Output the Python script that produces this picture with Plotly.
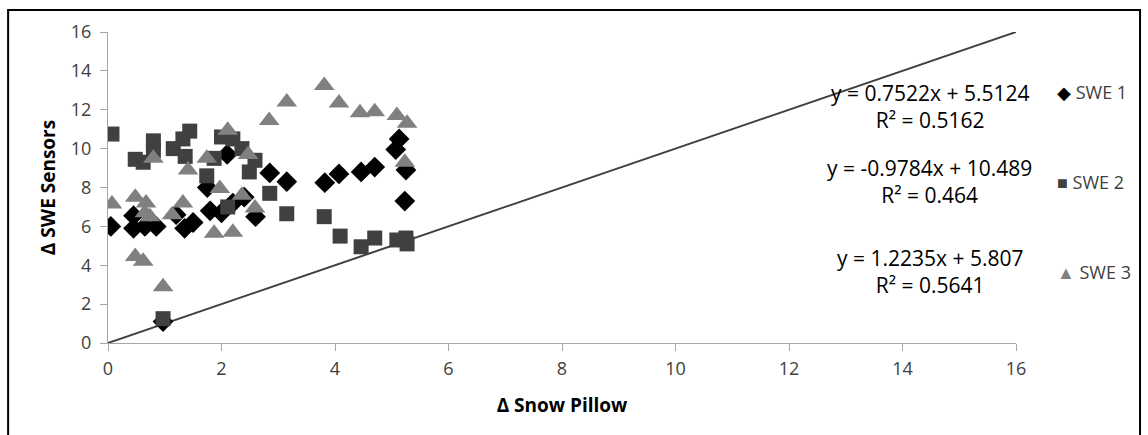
import plotly.graph_objects as go

# SWE 1 (diamonds)
swe1_x = [0.05, 0.45, 0.45, 0.65, 0.85, 1.2, 1.35, 1.5, 0.97, 1.8, 1.75, 2.0, 2.1, 2.2, 2.4, 2.6,
          2.85, 3.15, 3.82, 4.07, 4.46, 4.7, 5.07, 5.13, 5.25, 5.23]
swe1_y = [6.0, 6.55, 5.9, 6.0, 6.0, 6.6, 5.9, 6.2, 1.1, 6.8, 8.0, 6.7, 9.7, 7.2, 7.5, 6.5,
          8.75, 8.3, 8.25, 8.7, 8.8, 9.05, 9.95, 10.5, 8.9, 7.3]

# SWE 2 (squares)
swe2_x = [0.07, 0.48, 0.62, 0.8, 0.8, 1.15, 1.32, 1.44, 1.36, 0.97, 1.74, 1.87, 2.0, 2.2, 2.36,
          2.49, 2.59, 2.11, 2.85, 3.15, 3.81, 4.09, 4.46, 4.7, 5.09, 5.25, 5.27]
swe2_y = [10.75, 9.45, 9.3, 10.4, 9.9, 10.0, 10.5, 10.9, 9.6, 1.25, 8.6, 9.5, 10.6, 10.5, 10.0,
          8.8, 9.4, 7.0, 7.7, 6.65, 6.5, 5.5, 4.95, 5.4, 5.3, 5.4, 5.1]

# SWE 3 (triangles)
swe3_x = [0.07, 0.48, 0.67, 0.48, 0.62, 0.97, 0.65, 0.74, 0.8, 1.13, 1.32, 1.41, 1.74, 1.87, 1.97,
          2.11, 2.2, 2.36, 2.47, 2.59, 2.84, 3.15, 3.81, 4.07, 4.44, 4.7, 5.09, 5.27, 5.23]
swe3_y = [7.15, 7.5, 7.2, 4.45, 4.2, 2.9, 6.7, 6.5, 9.5, 6.6, 7.2, 8.9, 9.5, 5.65, 7.95,
          10.95, 5.7, 7.6, 9.7, 6.95, 11.45, 12.4, 13.25, 12.35, 11.85, 11.9, 11.7, 11.3, 9.3]

one_to_one = [0, 16]
tick_vals = [0, 2, 4, 6, 8, 10, 12, 14, 16]

series_names = ["SWE 1", "SWE 2", "SWE 3"]
legend_glyphs = ["◆", "■", "▲"]
equations = ["y = 0.7522x + 5.5124<br>R² = 0.5162",
             "y = -0.9784x + 10.489<br>R² = 0.464",
             "y = 1.2235x + 5.807<br>R² = 0.5641"]

FONT = "Open Sans"
fig = go.Figure()

fig.add_trace(go.Scatter(x=one_to_one, y=one_to_one, mode="lines",
                         line=dict(color="#404040", width=2), showlegend=False, hoverinfo="skip"))

styles = [
    dict(symbol="diamond", color="#000000", size=16),
    dict(symbol="square", color="#404040", size=15),
    dict(symbol="triangle-up", color="#808080", size=18),
]
data = [(swe1_x, swe1_y), (swe2_x, swe2_y), (swe3_x, swe3_y)]
for (xs, ys), st, name in zip(data, styles, series_names):
    fig.add_trace(go.Scatter(x=xs, y=ys, mode="markers", name=name, showlegend=False,
                             marker=dict(symbol=st["symbol"], color=st["color"], size=st["size"],
                                         line=dict(width=0))))

# equation labels
eq_y = [0.762, 0.519, 0.2315]
for txt, yy in zip(equations, eq_y):
    fig.add_annotation(x=0.905, y=yy, xref="paper", yref="paper", text=txt, showarrow=False,
                       font=dict(family=FONT, size=21, color="#000000"), align="center",
                       xanchor="center", yanchor="middle")

# legend as text
leg_y = [0.807, 0.518, 0.228]
for glyph, st, name, yy in zip(legend_glyphs, styles, series_names, leg_y):
    fig.add_annotation(x=1.043, y=yy, xref="paper", yref="paper",
                       text=f"<span style='color:{st['color']}'>{glyph}</span> {name}",
                       showarrow=False, xanchor="left", yanchor="middle",
                       font=dict(family=FONT, size=18, color="#404040"))

axis_common = dict(range=[0, 16], tickvals=tick_vals, showgrid=False, zeroline=False,
                   showline=True, linecolor="#a6a6a6", linewidth=1, ticks="outside",
                   ticklen=7, tickcolor="#a6a6a6",
                   tickfont=dict(family=FONT, size=18, color="#404040"))

fig.update_xaxes(**axis_common, ticklabelstandoff=2,
                 title=dict(text="<b>Δ Snow Pillow</b>", standoff=20,
                            font=dict(family=FONT, size=19, color="#000000")))
fig.update_yaxes(**axis_common, ticklabelstandoff=5,
                 title=dict(text="<b>Δ SWE Sensors</b>", standoff=10,
                            font=dict(family=FONT, size=19, color="#000000")))

fig.add_shape(type="rect", xref="paper", yref="paper", x0=-0.110, x1=1.1366, y0=-0.35, y1=1.0707,
              line=dict(color="#000000", width=2), fillcolor="rgba(0,0,0,0)", layer="below")

fig.update_layout(
    width=1148, height=435,
    margin=dict(l=108, r=132, t=32, b=92, autoexpand=False),
    paper_bgcolor="white", plot_bgcolor="white",
    showlegend=False,
)

fig.write_html("out.html")
